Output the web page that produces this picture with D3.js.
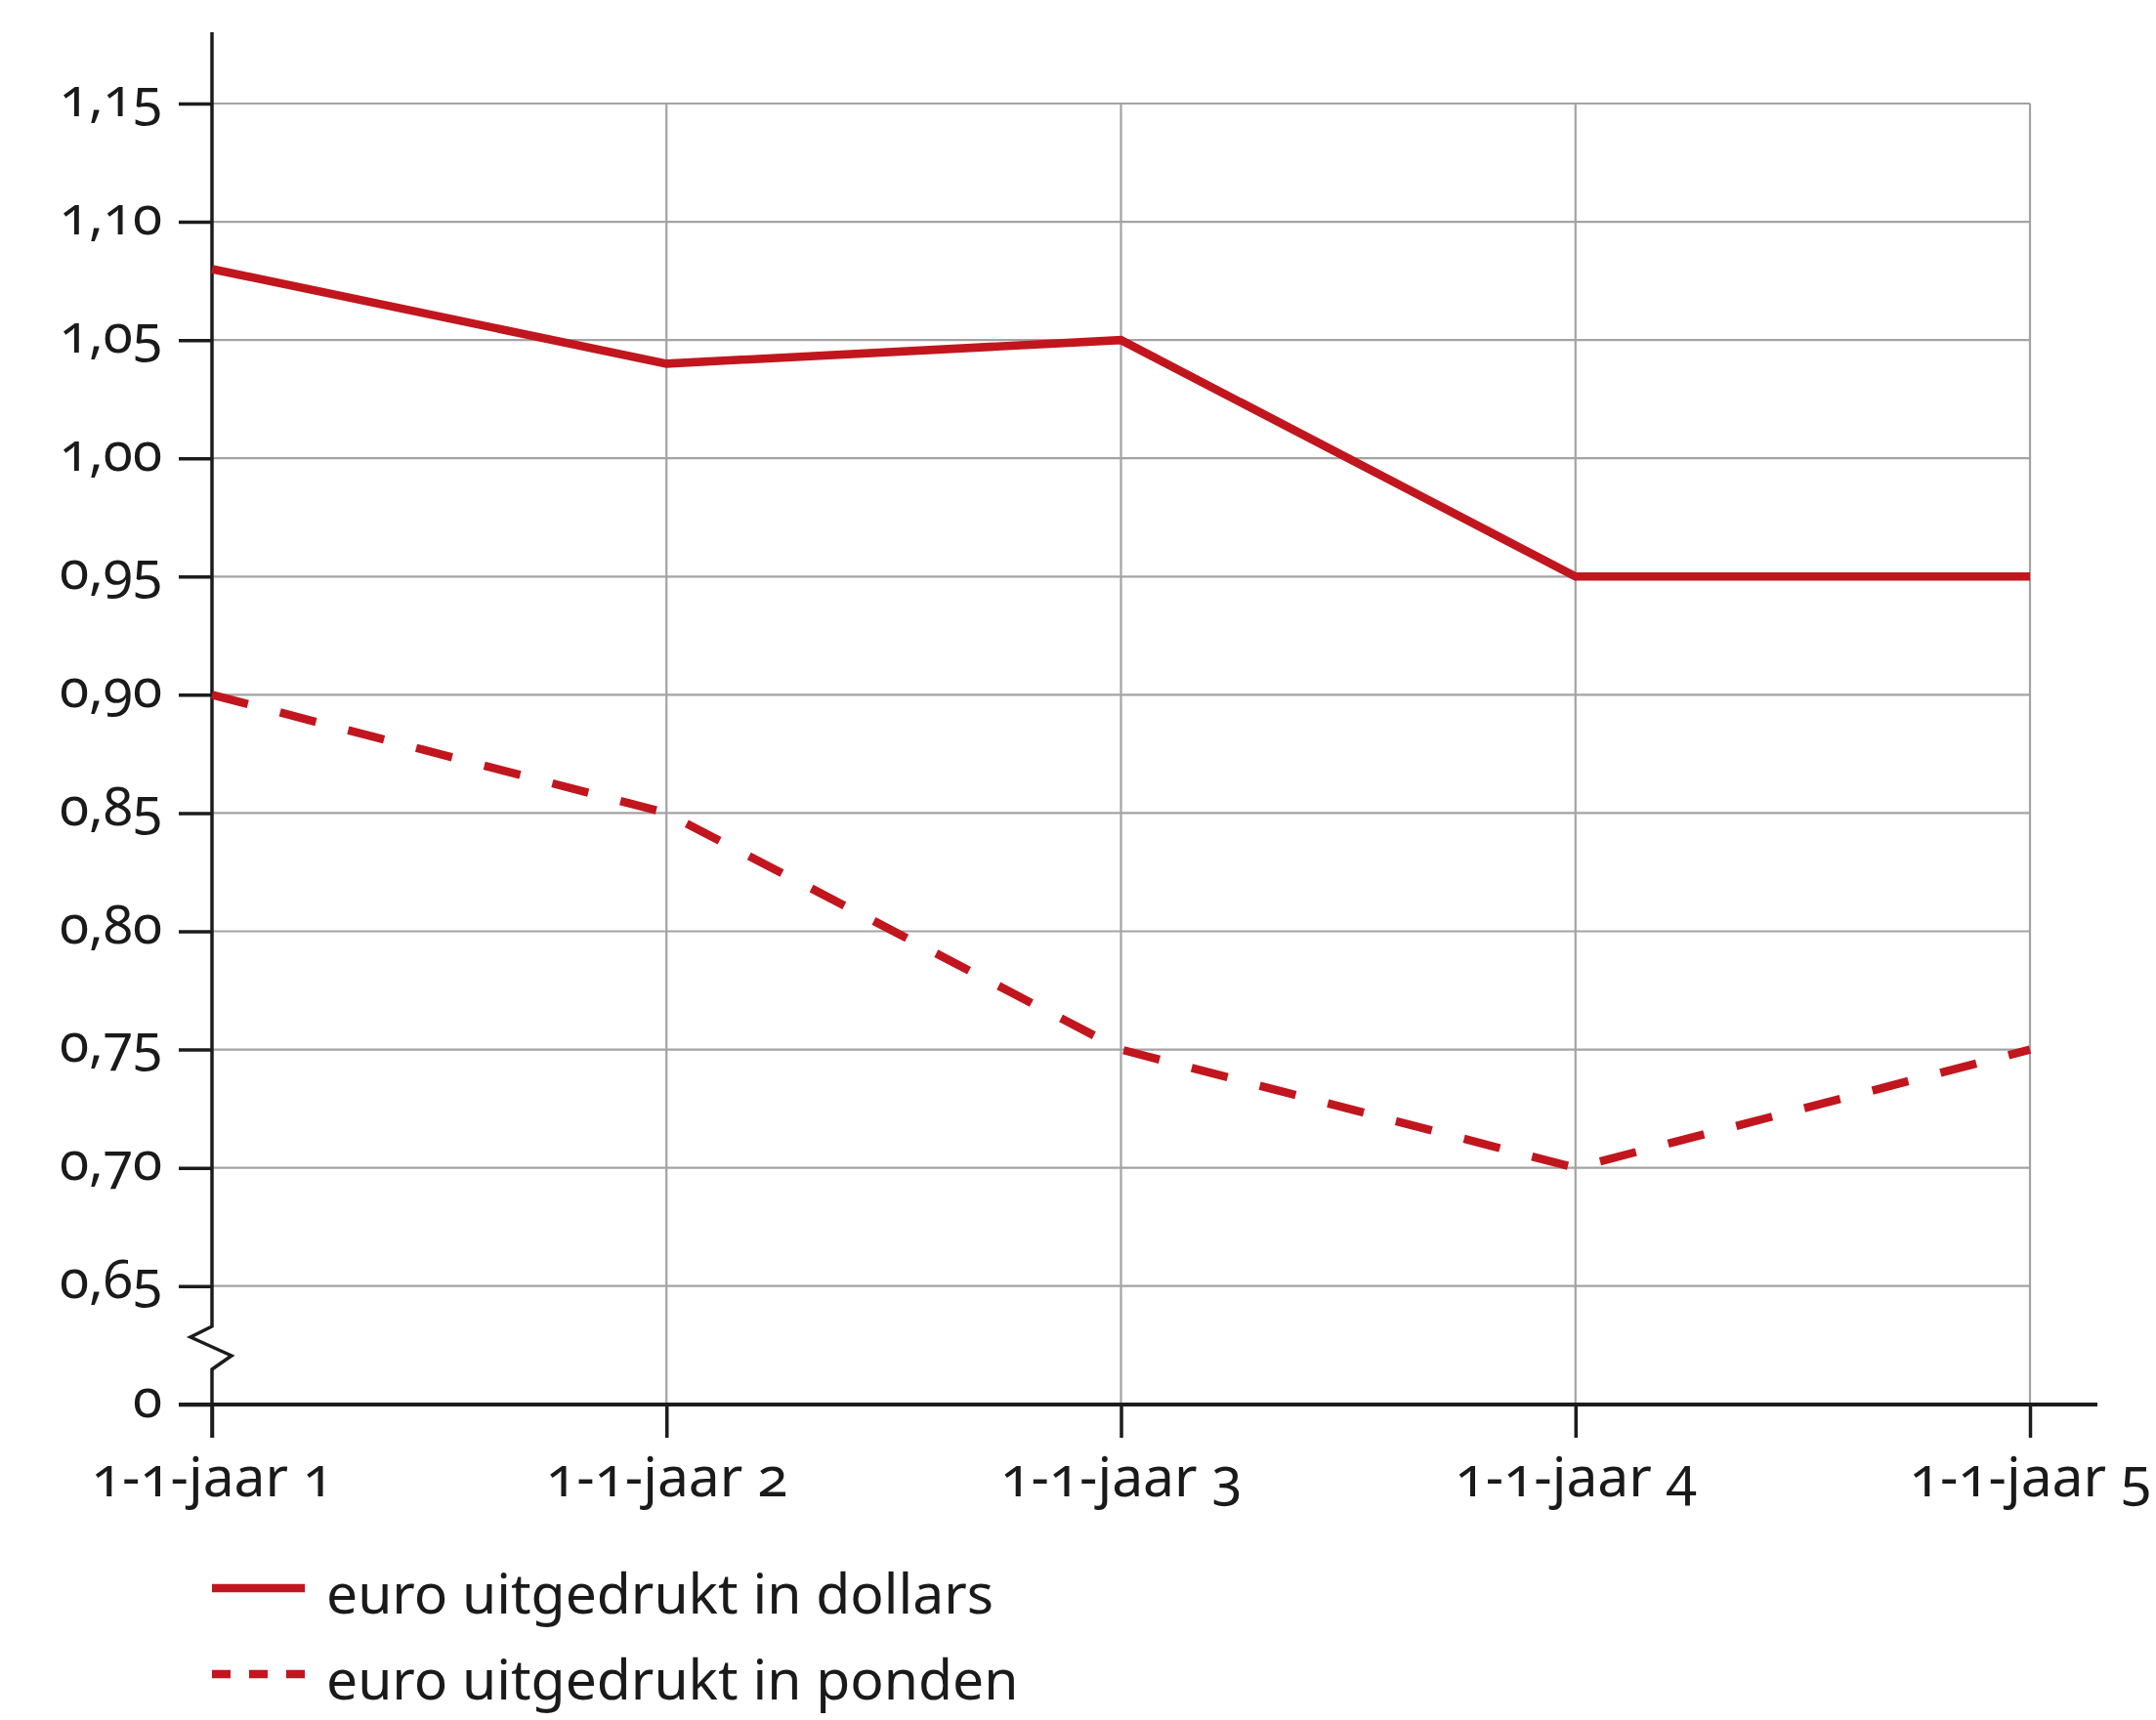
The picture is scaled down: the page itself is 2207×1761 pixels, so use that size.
<!DOCTYPE html>
<html>
<head>
<meta charset="utf-8">
<script src="https://cdn.jsdelivr.net/npm/d3@7"></script>
<style>
  html, body { margin: 0; padding: 0; background: #ffffff; }
  svg text { font-family: "Noto Sans", "Open Sans", sans-serif; font-variant-numeric: oldstyle-nums; fill: #1a1a1a; }
</style>
</head>
<body>
<svg id="chart" width="2207" height="1761"></svg>
<script>
// ---- data ----
const categories = ["1-1-jaar 1", "1-1-jaar 2", "1-1-jaar 3", "1-1-jaar 4", "1-1-jaar 5"];
const dollarValues = [1.08, 1.04, 1.05, 0.95, 0.95];
const pondValues = [0.90, 0.85, 0.75, 0.70, 0.75];
const yTickValues = [0, 0.65, 0.70, 0.75, 0.80, 0.85, 0.90, 0.95, 1.00, 1.05, 1.10, 1.15];
const seriesNames = ["euro uitgedrukt in dollars", "euro uitgedrukt in ponden"];

// ---- layout ----
const red = "#c1161e";
const gridColor = "#a3a3a3";
const axisColor = "#1c1c1c";
const svg = d3.select("#chart");

const x = d3.scalePoint().domain(categories).range([217, 2078]);
// broken axis: 0 sits one step below 0,65
const y = d3.scaleLinear()
  .domain([0, 0.60, 0.65, 1.15])
  .range([1438, 1377.3, 1316.7, 106]);

const fmt = v => v === 0 ? "0" : d3.format(".2f")(v).replace(".", ",");

// gridlines
const grid = svg.append("g");
grid.selectAll("line.h").data(yTickValues.filter(v => v > 0)).join("line")
  .attr("x1", x(categories[0])).attr("x2", x(categories[categories.length - 1]))
  .attr("y1", d => y(d)).attr("y2", d => y(d))
  .attr("stroke", gridColor).attr("stroke-width", 2.2);
grid.selectAll("line.v").data(categories.slice(1)).join("line")
  .attr("x1", d => x(d)).attr("x2", d => x(d))
  .attr("y1", y(1.15)).attr("y2", y(0))
  .attr("stroke", gridColor).attr("stroke-width", 2.2);

// y axis (ticks + labels)
const yAxis = svg.append("g").attr("transform", `translate(${x(categories[0])},0)`)
  .call(d3.axisLeft(y).tickValues(yTickValues).tickFormat(fmt).tickSize(34).tickPadding(17));
yAxis.select(".domain").remove();
yAxis.selectAll(".tick line").attr("stroke", axisColor).attr("stroke-width", 3.5);
yAxis.selectAll(".tick text").attr("font-size", 55).attr("dy", "0.22em").style("fill", "#1a1a1a");

// y axis line with break
const ax0 = x(categories[0]);
const breakPath = d3.path();
breakPath.moveTo(ax0, 33);
breakPath.lineTo(ax0, 1358);
breakPath.lineTo(ax0 - 22, 1369);
breakPath.lineTo(ax0 + 20, 1388);
breakPath.lineTo(ax0, 1402);
breakPath.lineTo(ax0, 1472);
svg.append("path").attr("d", breakPath.toString())
  .attr("fill", "none").attr("stroke", axisColor).attr("stroke-width", 3.5)
  .attr("stroke-linejoin", "miter");

// x axis
const xAxis = svg.append("g").attr("transform", `translate(0,${y(0)})`)
  .call(d3.axisBottom(x).tickSize(34).tickPadding(12));
xAxis.select(".domain").remove();
xAxis.selectAll(".tick line").attr("stroke", axisColor).attr("stroke-width", 3.5);
xAxis.selectAll(".tick text").attr("font-size", 57).attr("dy", "0.85em").style("fill", "#1a1a1a");
svg.append("line")
  .attr("x1", ax0 - 34).attr("x2", 2147)
  .attr("y1", y(0)).attr("y2", y(0))
  .attr("stroke", axisColor).attr("stroke-width", 4);

// series lines
const line = d3.line().x((d, i) => x(categories[i])).y(d => y(d));
svg.append("path").datum(dollarValues).attr("d", line)
  .attr("fill", "none").attr("stroke", red).attr("stroke-width", 8.5)
  .attr("stroke-linejoin", "miter");
svg.append("path").datum(pondValues).attr("d", line)
  .attr("fill", "none").attr("stroke", red).attr("stroke-width", 8.5)
  .attr("stroke-dasharray", "38,34").attr("stroke-linejoin", "miter");

// legend
const legend = svg.append("g");
const legendRows = [
  { name: seriesNames[0], dash: null, y: 1626 },
  { name: seriesNames[1], dash: "19,19", y: 1714 }
];
legendRows.forEach(r => {
  legend.append("line")
    .attr("x1", 217).attr("x2", 312).attr("y1", r.y).attr("y2", r.y)
    .attr("stroke", red).attr("stroke-width", 8.5)
    .attr("stroke-dasharray", r.dash);
  legend.append("text")
    .attr("x", 334).attr("y", r.y + 26)
    .attr("font-size", 57)
    .text(r.name);
});
</script>
</body>
</html>
